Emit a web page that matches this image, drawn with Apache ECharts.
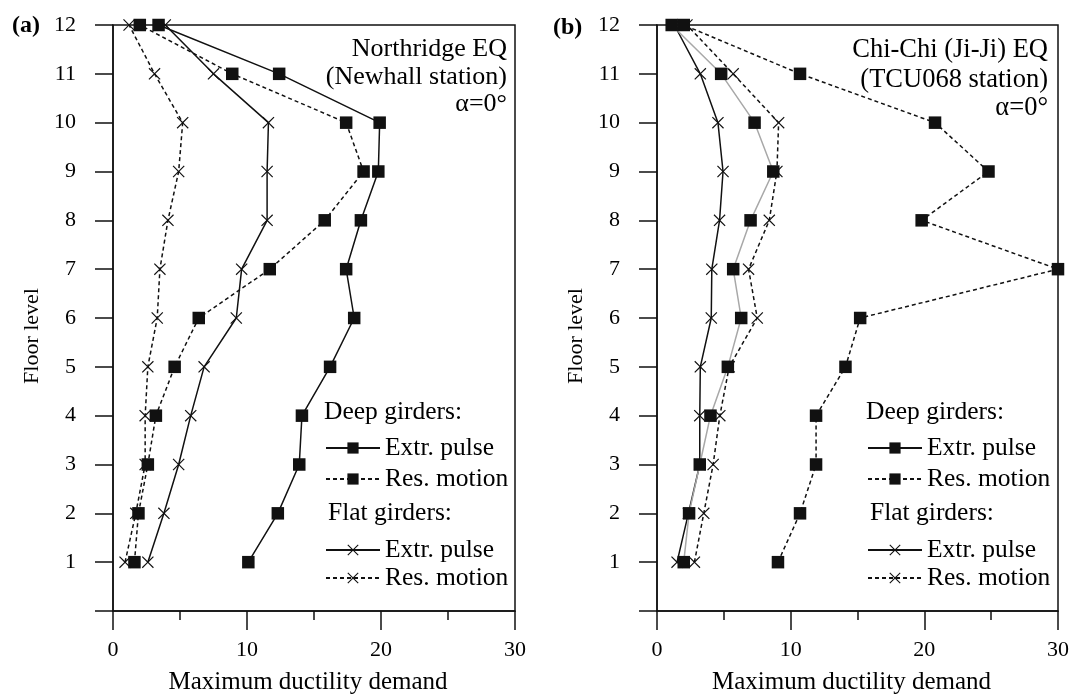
<!DOCTYPE html>
<html>
<head>
<meta charset="utf-8">
<script src="https://cdn.jsdelivr.net/npm/echarts@6/dist/echarts.min.js"></script>
<style>html,body{margin:0;padding:0;background:#fff;}#c{width:1072px;height:695px;}</style>
</head>
<body>
<div id="c"></div>
<script>
// ---- data ----
const floors = [1, 2, 3, 4, 5, 6, 7, 8, 9, 10, 11, 12];
const xTicks = [0, 10, 20, 30];
// Panel (a) Northridge EQ
const deepExtrA = [10.1, 12.3, 13.9, 14.1, 16.2, 18.0, 17.4, 18.5, 19.8, 19.9, 12.4, 3.4];
const deepResA  = [1.6, 1.9, 2.6, 3.2, 4.6, 6.4, 11.7, 15.8, 18.7, 17.4, 8.9, 2.0];
const flatExtrA = [2.6, 3.8, 4.9, 5.8, 6.8, 9.2, 9.6, 11.5, 11.5, 11.6, 7.5, 3.9];
const flatResA  = [0.9, 1.7, 2.4, 2.4, 2.6, 3.3, 3.5, 4.1, 4.9, 5.2, 3.1, 1.2];
// Panel (b) Chi-Chi EQ
const deepExtrB = [2.0, 2.4, 3.2, 4.0, 5.3, 6.3, 5.7, 7.0, 8.7, 7.3, 4.8, 1.1];
const deepResB  = [9.05, 10.7, 11.9, 11.9, 14.1, 15.2, 30.0, 19.8, 24.8, 20.8, 10.7, 2.0];
const flatExtrB = [1.5, 2.35, 3.2, 3.2, 3.24, 4.06, 4.1, 4.68, 4.94, 4.56, 3.24, 1.3];
const flatResB  = [2.8, 3.5, 4.2, 4.7, 5.4, 7.5, 6.85, 8.4, 8.97, 9.1, 5.7, 2.24];

const legendLabels = {
  a_dext: 'Extr. pulse', a_dres: 'Res. motion', a_fext: 'Extr. pulse', a_fres: 'Res. motion',
  b_dext: 'Extr. pulse', b_dres: 'Res. motion', b_fext: 'Extr. pulse', b_fres: 'Res. motion'
};

// ---- styling ----
const FONT = '"Liberation Serif", "DejaVu Serif", serif';
const INK = '#111';
const CROSS = 'path://M0,0.7L0.7,0L5,4.3L9.3,0L10,0.7L5.7,5L10,9.3L9.3,10L5,5.7L0.7,10L0,9.3L4.3,5Z';
const DASH = [4, 3];

function pairs(vals) { return vals.map((v, i) => [v, floors[i]]); }

function mkSeries(name, vals, idx, isSquare, dashed, lineColor) {
  return {
    name: name, type: 'line', xAxisIndex: idx, yAxisIndex: idx,
    data: pairs(vals),
    symbol: isSquare ? 'rect' : CROSS,
    symbolSize: isSquare ? 12.5 : 12,
    showAllSymbol: true,
    lineStyle: { color: lineColor || INK, width: 1.5, type: dashed ? DASH : 'solid' },
    itemStyle: { color: INK, borderWidth: 0 },
    emphasis: { disabled: true },
    animation: false,
    z: isSquare ? 3 : 2
  };
}

function mkX(idx) {
  return {
    type: 'value', gridIndex: idx, min: 0, max: 30, interval: 10,
    axisLine: { show: true, lineStyle: { color: INK, width: 1.5 } },
    axisTick: { show: true, length: 19, lineStyle: { color: INK, width: 1.5 } },
    minorTick: { show: true, splitNumber: 2, length: 9, lineStyle: { color: INK, width: 1.5 } },
    splitLine: { show: false },
    axisLabel: { color: '#000', fontFamily: FONT, fontSize: 22, margin: 28 },
    name: 'Maximum ductility demand', nameLocation: 'middle', nameGap: 59,
    nameTextStyle: { color: '#000', fontFamily: FONT, fontSize: 25, padding: [0, 12, 0, 0] }
  };
}
function mkY(idx) {
  return {
    type: 'value', gridIndex: idx, min: 0, max: 12, interval: 1,
    axisLine: { show: true, lineStyle: { color: INK, width: 1.5 } },
    axisTick: { show: true, length: 18, lineStyle: { color: INK, width: 1.5 } },
    splitLine: { show: false },
    axisLabel: { color: '#000', fontFamily: FONT, fontSize: 22, margin: 37,
      formatter: v => (v === 0 ? '' : String(v)) }
  };
}

function mkLegend(name, left, cy, extra) {
  const l = {
    data: [name], left: left, top: cy - 7, orient: 'horizontal', padding: 0,
    itemWidth: 54, itemHeight: 14, selectedMode: false,
    formatter: n => legendLabels[n],
    textStyle: { color: '#000', fontFamily: FONT, fontSize: 25.5 }
  };
  return Object.assign(l, extra || {});
}

function txt(x, y, text, opts) {
  return {
    type: 'text', x: x, y: y, silent: true,
    rotation: (opts && opts.rotation) || 0,
    style: Object.assign({
      text: text, fill: '#000', font: '25.5px ' + FONT,
      textAlign: 'left', textVerticalAlign: 'middle'
    }, (opts && opts.style) || {})
  };
}

const GA = { left: 113, top: 25, width: 402, height: 586 };
const GB = { left: 657, top: 25, width: 401, height: 586 };
const offB = GB.left - GA.left;
const gridBase = { show: true, borderColor: INK, borderWidth: 1.5, backgroundColor: 'transparent',
  containLabel: false, outerBoundsMode: 'none' };

const option = {
  backgroundColor: '#fff',
  animation: false,
  grid: [Object.assign({}, gridBase, GA), Object.assign({}, gridBase, GB)],
  xAxis: [mkX(0), mkX(1)],
  yAxis: [mkY(0), mkY(1)],
  legend: [
    mkLegend('a_dext', 325, 442), mkLegend('a_dres', 325, 473),
    mkLegend('a_fext', 325, 544), mkLegend('a_fres', 325, 572),
    mkLegend('b_dext', 325 + offB - 2, 442, { lineStyle: { color: INK } }),
    mkLegend('b_dres', 325 + offB - 2, 473),
    mkLegend('b_fext', 325 + offB - 2, 544), mkLegend('b_fres', 325 + offB - 2, 572)
  ],
  series: [
    mkSeries('a_fres', flatResA, 0, false, true),
    mkSeries('a_fext', flatExtrA, 0, false, false),
    mkSeries('a_dres', deepResA, 0, true, true),
    mkSeries('a_dext', deepExtrA, 0, true, false),
    mkSeries('b_fres', flatResB, 1, false, true),
    mkSeries('b_fext', flatExtrB, 1, false, false),
    mkSeries('b_dres', deepResB, 1, true, true),
    mkSeries('b_dext', deepExtrB, 1, true, false, '#a8a8a8')
  ],
  graphic: [
    txt(12, 26, '(a)', { style: { font: 'bold 24px ' + FONT } }),
    txt(553, 28, '(b)', { style: { font: 'bold 24px ' + FONT } }),
    txt(32, 336, 'Floor level', { rotation: Math.PI / 2, style: { textAlign: 'center', font: '22px ' + FONT } }),
    txt(32 + offB, 336, 'Floor level', { rotation: Math.PI / 2, style: { textAlign: 'center', font: '22px ' + FONT } }),
    txt(507, 49, 'Northridge EQ', { style: { textAlign: 'right', font: '26px ' + FONT } }),
    txt(507, 77, '(Newhall station)', { style: { textAlign: 'right', font: '26px ' + FONT } }),
    txt(507, 104, 'α=0°', { style: { textAlign: 'right', font: '26px ' + FONT } }),
    txt(1048, 50, 'Chi-Chi (Ji-Ji) EQ', { style: { textAlign: 'right', font: '26.5px ' + FONT } }),
    txt(1048, 80, '(TCU068 station)', { style: { textAlign: 'right', font: '26.5px ' + FONT } }),
    txt(1048, 108, 'α=0°', { style: { textAlign: 'right', font: '26.5px ' + FONT } }),
    txt(324, 412, 'Deep girders:'),
    txt(328, 513, 'Flat girders:'),
    txt(324 + offB - 2, 412, 'Deep girders:'),
    txt(328 + offB - 2, 513, 'Flat girders:')
  ]
};

const chart = echarts.init(document.getElementById('c'), null, { renderer: 'canvas' });
chart.setOption(option);
</script>
</body>
</html>
